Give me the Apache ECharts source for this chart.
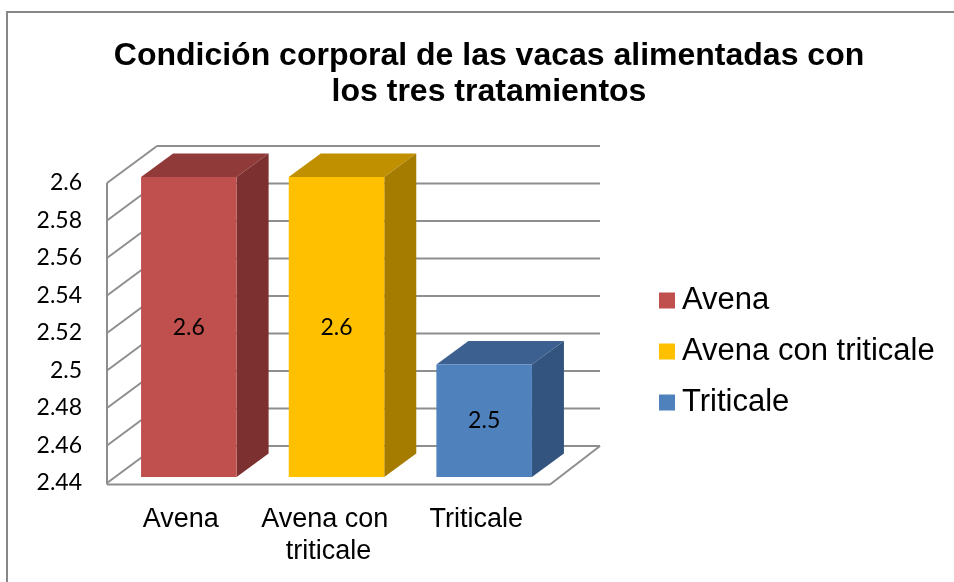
<!DOCTYPE html>
<html>
<head>
<meta charset="utf-8">
<script src="https://cdn.jsdelivr.net/npm/echarts@6/dist/echarts.min.js"></script>
<style>
  html, body { margin: 0; padding: 0; background: #fff; overflow: hidden; }
  #frame {
    position: absolute; left: 6px; top: 11px; width: 1000px; height: 700px;
    border: 2px solid #878787; box-sizing: border-box;
  }
  #chart { position: absolute; left: 0; top: 0; width: 954px; height: 582px; }
</style>
</head>
<body>
<div id="frame"></div>
<div id="chart"></div>
<script>
// datos
const categories = ["Avena", "Avena con triticale", "Triticale"];
const values = [2.6, 2.6, 2.5];
const yTicks = [2.44, 2.46, 2.48, 2.5, 2.52, 2.54, 2.56, 2.58, 2.6];

// colores: frente, tapa, lado
const faceColors = [
  ["#C0504D", "#903B39", "#7C302F"],
  ["#FFC000", "#C09000", "#A67C00"],
  ["#4F81BD", "#3C6190", "#33547E"],
];

// profundidad del "3D"
const DX = 50, DY = -37;
const gridColor = "#8E8E8E";
const yMin = yTicks[0], yMax = yTicks[yTicks.length - 1];

// paredes y lineas de division
const wallSeries = {
  type: "custom",
  name: "walls",
  z: 1,
  clip: false,
  silent: true,
  encode: { x: 0, y: 1 },
  data: yTicks.map((v) => [0, v]),
  renderItem: (params, api) => {
    const cs = params.coordSys;
    const L = cs.x, R = cs.x + cs.width;
    const v = api.value(1);
    const y = api.coord([0, v])[1];
    const st = { stroke: gridColor, lineWidth: 2 };
    const kids = [
      { type: "line", shape: { x1: L, y1: y, x2: L + DX, y2: y + DY }, style: st },
      { type: "line", shape: { x1: L + DX, y1: y + DY, x2: R + DX, y2: y + DY }, style: st },
    ];
    if (v === yMin) {
      const yt = api.coord([0, yMax])[1];
      kids.push(
        { type: "line", shape: { x1: L, y1: y + 1.5, x2: R, y2: y + 1.5 }, style: st },
        { type: "line", shape: { x1: R, y1: y + 1.5, x2: R + DX, y2: y + DY }, style: st },
        { type: "line", shape: { x1: L, y1: y + 1.5, x2: L, y2: yt }, style: st }
      );
    }
    return { type: "group", children: kids };
  },
};

// barras 3D
const barSeries = categories.map((name, i) => ({
  type: "custom",
  name: name,
  z: 2,
  clip: false,
  itemStyle: { color: faceColors[i][0] },
  encode: { x: 0, y: 1 },
  data: [[i, values[i]]],
  renderItem: (params, api) => {
    const idx = api.value(0);
    const val = api.value(1);
    const top = api.coord([idx, val]);
    const bot = api.coord([idx, yMin]);
    const w = api.size([1, 0])[0] * 0.647;
    const ox = DX * 0.16, oy = DY * 0.16;
    const dx = DX * 0.64, dy = DY * 0.64;
    const x = top[0] - w / 2 + ox;
    const y = top[1] + oy;
    const yb = bot[1] + oy;
    const c = faceColors[idx];
    return {
      type: "group",
      children: [
        {
          type: "polygon",
          shape: { points: [[x, y], [x + dx, y + dy], [x + w + dx, y + dy], [x + w, y]] },
          style: { fill: c[1] },
        },
        {
          type: "polygon",
          shape: { points: [[x + w, y], [x + w + dx, y + dy], [x + w + dx, yb + dy], [x + w, yb]] },
          style: { fill: c[2] },
        },
        {
          type: "rect",
          shape: { x: x, y: y, width: w, height: yb - y },
          style: { fill: c[0] },
        },
        {
          type: "text",
          x: x + w / 2,
          y: (y + yb) / 2,
          style: {
            text: String(val),
            fill: "#000",
            font: "23px Lato",
            align: "center",
            verticalAlign: "middle",
          },
        },
      ],
    };
  },
}));

const option = {
  animation: false,
  title: {
    text: "Condición corporal de las vacas alimentadas con\nlos tres tratamientos",
    left: 484,
    top: 33,
    textAlign: "center",
    textStyle: {
      fontFamily: "Liberation Sans",
      fontWeight: "bold",
      fontSize: 32,
      lineHeight: 36,
      color: "#000",
    },
  },
  legend: {
    data: categories,
    orient: "vertical",
    left: 654,
    top: 280,
    icon: "rect",
    itemWidth: 16,
    itemHeight: 16,
    itemGap: 20,
    textStyle: {
      fontFamily: "Liberation Sans",
      fontSize: 31,
      lineHeight: 31,
      color: "#000",
      padding: [0, 0, 0, 2],
    },
  },
  grid: {
    left: 107,
    top: 183,
    width: 443,
    height: 300,
    outerBoundsMode: "none",
  },
  xAxis: {
    type: "category",
    data: categories,
    axisLine: { show: false },
    axisTick: { show: false },
    axisLabel: {
      interval: 0,
      margin: 21,
      width: 148,
      overflow: "break",
      fontFamily: "Liberation Sans",
      fontSize: 27,
      lineHeight: 32,
      color: "#000",
    },
  },
  yAxis: {
    type: "value",
    min: yMin,
    max: yMax,
    interval: 0.02,
    axisLine: { show: false },
    axisTick: { show: false },
    splitLine: { show: false },
    axisLabel: {
      margin: 25,
      fontFamily: "Lato",
      fontSize: 23,
      color: "#000",
    },
  },
  series: [wallSeries].concat(barSeries),
};

echarts.init(document.getElementById("chart")).setOption(option);
</script>
</body>
</html>
